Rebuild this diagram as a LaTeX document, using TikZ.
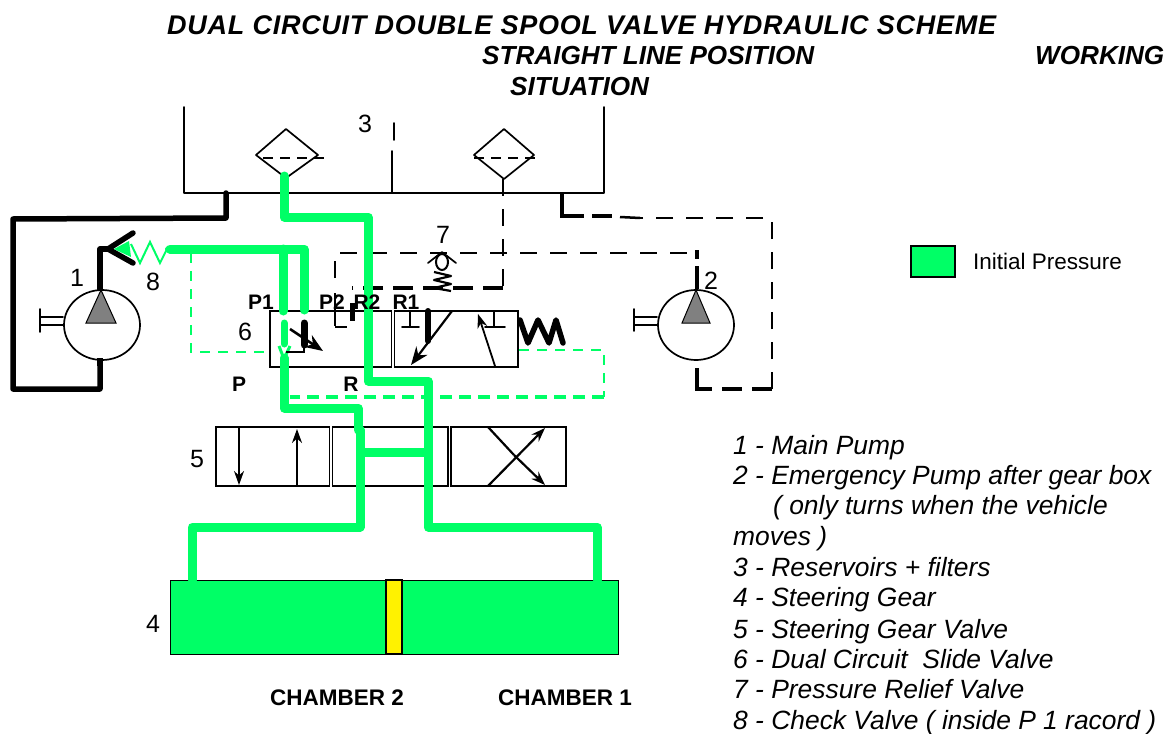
\documentclass[tikz,border=0pt]{standalone}
\usepackage{fontspec}
\setmainfont{Liberation Sans}
\usetikzlibrary{arrows.meta}
\definecolor{gr}{RGB}{0,255,102}
\newcommand{\fsz}[1]{\fontsize{#1}{#1}\selectfont}
\tikzset{
 thin line/.style={line width=1.7pt,black,line cap=round,line join=round},
 box/.style={line width=1.6pt,black,line join=miter},
 heavy/.style={line width=5.5pt,black,line cap=round,line join=round},
 greenpipe/.style={line width=9pt,gr,line cap=round,line join=round},
 longdash/.style={line width=1.8pt,black,dash pattern=on 17pt off 13pt},
 heavydash/.style={line width=4.5pt,black,dash pattern=on 20pt off 10pt},
 greendash/.style={line width=2pt,gr,dash pattern=on 10pt off 8pt},
 greenheavydash/.style={line width=3.5pt,gr,dash pattern=on 12pt off 7pt},
 arrowline/.style={line width=1.8pt,black,-{Stealth[length=14pt,width=10pt]}},
 bigarrow/.style={line width=2.2pt,black,-{Stealth[length=18pt,width=14pt]}},
 title/.style={anchor=base west,font=\fsz{26.1}\bfseries\itshape,inner sep=0pt},
 listitem/.style={anchor=base west,font=\fsz{26.4}\itshape,inner sep=0pt},
 tag/.style={anchor=base,font=\fsz{22.5}\bfseries,inner sep=0pt},
 porttag/.style={anchor=base,font=\fsz{21}\bfseries,inner sep=0pt},
 num/.style={anchor=base,font=\fsz{25},inner sep=0pt},
 pumpcase/.style={draw=black,line width=1.7pt,fill=white},
 triangle fill/.style={fill=black!50,draw=black,line width=1pt,line join=miter},
}
\begin{document}
\begin{tikzpicture}[x=1pt,y=-1pt]
\useasboundingbox (0,0) rectangle (1169,733);
% titles
\node[title] (t1) at (167,35) {\fsz{27}\addfontfeature{LetterSpace=2.7}DUAL CIRCUIT DOUBLE SPOOL VALVE HYDRAULIC SCHEME};
\node[title] (t2) at (482,65) {STRAIGHT LINE POSITION};
\node[title] (t3) at (1035,65) {WORKING};
\node[title] (t4) at (510,96) {SITUATION};
% reservoir
\draw[thin line] (184,107) -- (184,193) -- (604,193) -- (604,107);
\draw[thin line] (392,193) -- (392,151);
\draw[thin line] (394,123) -- (394,140);
\draw[thin line] (256,155) -- (286,129) -- (318,155) -- (286,178) -- cycle;
\draw[thin line] (474,155) -- (504,129) -- (534,155) -- (504,179) -- cycle;
\draw[line width=1.5pt,dash pattern=on 10pt off 7pt] (263,158) -- (327,158);
\draw[line width=1.5pt,dash pattern=on 10pt off 7pt] (474,158) -- (537,158);
% valve 6
\draw[box] (270,311) rectangle (391.5,367);
\draw[box] (394.5,311) rectangle (518,367);
\draw[thin line] (410,311) -- (410,327) (402,327) -- (419,327);
\draw[thin line] (494,311) -- (494,327) (485,327) -- (505,327);
\draw[line width=6pt,black,line cap=round] (428,311) -- (428,341);
\draw[bigarrow] (452,311) -- (411,365);
\draw[arrowline] (495,366) -- (478,314);
\draw[heavy] (520,320) -- (528,343) -- (538,320) -- (549,343) -- (556,320) -- (563,343);
% valve 5
\draw[box] (216,427) rectangle (329.5,486);
\draw[box] (332.5,427) rectangle (448,486);
\draw[box] (451,427) rectangle (566,486);
\draw[arrowline] (239,427) -- (239,485);
\draw[arrowline] (297,486) -- (297,429);
\draw[line width=2.2pt] (488,427) -- (514,455);
\draw[arrowline,line width=2.2pt] (514,455) -- (545,485);
\draw[arrowline,line width=2.2pt] (488,486) -- (545,428);
% steering gear
\draw[fill=gr,draw=black,line width=1pt] (170,580) rectangle (618,654);
\draw[fill=yellow,draw=black,line width=1.5pt] (386,580) rectangle (402,654);
% black pipes
\draw[heavy] (226,193) -- (226,218) -- (13,219) -- (13,389) -- (100,389) -- (100,358);
\draw[heavy] (100,289) -- (100,249) -- (108,249);
\draw[heavy] (133,233) -- (108,249) -- (133,263);
% pump 1
\draw[pumpcase] (102,325) ellipse (38 and 35);
\draw[triangle fill] (101,290) -- (116,323) -- (86,323) -- cycle;
\draw[thin line] (40,309) -- (40,332) (40,317) -- (63,317) (40,325) -- (63,325);
\draw[heavy,line cap=butt] (100,358) -- (100,366);
% pump 2
\draw[pumpcase] (696,325) ellipse (38 and 35);
\draw[triangle fill] (696,290) -- (710,323) -- (682,323) -- cycle;
\draw[thin line] (634,309) -- (634,331) (634,317) -- (657,317) (634,325) -- (657,325);
% black dashed return
\draw[line width=4.5pt,black,line join=miter] (697,368) -- (697,389) -- (712,389);
\draw[heavydash] (722,389) -- (772,389);
\draw[longdash] (772,389) -- (772,218) -- (635,218);
\draw[line width=4.5pt,black,line join=miter] (562,193) -- (562,216) -- (584,216);
\draw[line width=3.5pt,black] (592,216) -- (612,216);
\draw[line width=2.5pt,black] (620,217) -- (640,218);
% pressure lines
\draw[longdash] (503,179) -- (503,288);
\draw[longdash] (335,278) -- (335,253) -- (697,253);
\draw[line width=4pt,black] (697,250) -- (697,259);
\draw[line width=4pt,black] (697,266) -- (697,289);
\draw[heavydash] (503,288) -- (352,288);
\draw[line width=1.7pt,black] (335,293) -- (335,326);
\draw[line width=2.8pt,black] (335,327) -- (347,327);
\draw[line width=5pt,black] (352,303) -- (352,321);
% relief valve 7
\draw[thin line] (428,263) -- (442,252) -- (456,263);
\draw[line width=2pt] (442,262) ellipse (6 and 8);
\draw[line width=2.2pt,line join=round] (434,272) -- (451,276) -- (434,280) -- (451,284) -- (434,288) -- (451,291);
% green dashed pilots
\draw[greendash] (191,253) -- (191,352) -- (268,352);
\draw[greendash] (519,350) -- (604,350) -- (604,397);
\draw[greenheavydash] (604,397) -- (290,397);
% green pipes
\draw[greenpipe] (284,176) -- (284,217) -- (368,217) -- (368,381) -- (428,381) -- (428,527) -- (597,527) -- (597,580);
\draw[greenpipe] (170,249) -- (304,249) -- (304,310);
\draw[greenpipe] (283,249) -- (283,311);
\draw[greenpipe] (284,358) -- (284,408) -- (358,408) -- (358,430);
\draw[greenpipe] (360,430) -- (360,527) -- (192,527) -- (192,580);
\draw[greenpipe,line cap=butt] (360,452) -- (428,452);
\draw[greenpipe,line cap=round,line width=7pt] (284,323) -- (284,344);
\draw[line width=3pt,gr] (279,346) -- (284,359) -- (290,346);
% check valve 8
\fill[gr] (114,249) -- (129,241) -- (131,257) -- cycle;
\draw[line width=2pt,gr,line join=miter] (131,244) -- (140,263) -- (150,242) -- (160,263) -- (167,249);
\draw[line width=4pt,gr,line cap=round] (167,249) -- (172,249);
% shuttle in valve 6
\draw[line width=2pt] (286,352) -- (304,352) -- (304,346);
\draw[line width=7pt,black,line cap=round] (304,323) -- (304,345);
\draw[bigarrow,line width=2.5pt] (290,329) -- (323,351);
% legend
\draw[fill=gr,draw=black,line width=1.2pt] (911,246) rectangle (955,277);
\node[anchor=base west,font=\fsz{22.5},inner sep=0pt] (lg) at (973,269) {Initial Pressure};
% numbers
\node[num] (n1) at (77,286) {1};
\node[num] (n2) at (711,289) {2};
\node[num] (n3) at (365,132) {3};
\node[num] (n4) at (153,632) {4};
\node[num] (n5) at (197,467) {5};
\node[num] (n6) at (245,340) {6};
\node[num] (n7) at (443,243) {7};
\node[num] (n8) at (153,290) {8};
% tags
\node[porttag] (p1) at (261,309) {P1};
\node[porttag] (p2) at (332,309) {P2};
\node[porttag] (r2) at (367,309) {R2};
\node[porttag] (r1) at (406,309) {R1};
\node[porttag] (pp) at (239,391) {P};
\node[porttag] (rr) at (351,391) {R};
\node[tag] (c2) at (337,705) {CHAMBER 2};
\node[tag] (c1) at (565,705) {CHAMBER 1};
% list
\node[listitem] (l1) at (733,454) {1 - Main Pump};
\node[listitem] (l2) at (733,484) {2 - Emergency Pump after gear box};
\node[listitem] (l2b) at (773,514) {( only turns when the vehicle};
\node[listitem] (l2c) at (733,545) {moves )};
\node[listitem] (l3) at (733,576) {3 - Reservoirs + filters};
\node[listitem] (l4) at (733,606) {4 - Steering Gear};
\node[listitem] (l5) at (733,638) {5 - Steering Gear Valve};
\node[listitem] (l6) at (733,668) {6 - Dual Circuit\ \ Slide Valve};
\node[listitem] (l7) at (733,698) {7 - Pressure Relief Valve};
\node[listitem] (l8) at (733,729) {8 - Check Valve ( inside P 1 racord )};
\end{tikzpicture}
\end{document}
